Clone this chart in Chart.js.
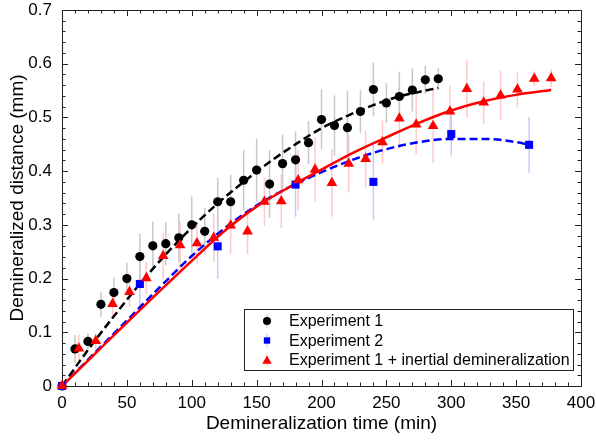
<!DOCTYPE html>
<html>
<head>
<meta charset="utf-8">
<script src="https://cdn.jsdelivr.net/npm/chart.js@4"></script>
<style>
  html, body { margin: 0; padding: 0; background: #fff; }
  #wrap { width: 596px; height: 440px; }
</style>
</head>
<body>
<div id="wrap"><canvas id="chartDemin" width="596" height="440"></canvas></div>
<script>
// Experiment 1 (black circles)
const exp1Time = [0, 10, 20, 30, 40, 50, 60, 70, 80, 90, 100, 110, 120, 130, 140, 150, 160, 170, 180, 190, 200, 210, 220, 230, 240, 250, 260, 270, 280, 290]
const exp1Dist = [0, 0.069, 0.083, 0.152, 0.174, 0.2, 0.241, 0.261, 0.265, 0.276, 0.3, 0.288, 0.343, 0.343, 0.383, 0.402, 0.376, 0.414, 0.421, 0.453, 0.496, 0.485, 0.481, 0.511, 0.552, 0.527, 0.539, 0.551, 0.57, 0.572]
const exp1Err = [0, 0.026, 0.015, 0.023, 0.028, 0.03, 0.043, 0.045, 0.04, 0.045, 0.053, 0.043, 0.045, 0.05, 0.056, 0.059, 0.063, 0.054, 0.053, 0.04, 0.056, 0.056, 0.069, 0.04, 0.05, 0.037, 0.046, 0.04, 0.026, 0.02]

// Experiment 2 (blue squares)
const exp2Time = [0, 60, 120, 180, 240, 300, 360]
const exp2Dist = [0, 0.19, 0.26, 0.375, 0.38, 0.469, 0.449]
const exp2Err = [0, 0.05, 0.06, 0.06, 0.07, 0.04, 0.052]

// Experiment 1 + inertial demineralization (red triangles)
const inertTime = [0, 13, 26, 39, 52, 65, 78, 91, 104, 117, 130, 143, 156, 169, 182, 195, 208, 221, 234, 247, 260, 273, 286, 299, 312, 325, 338, 351, 364, 377]
const inertDist = [0, 0.07, 0.084, 0.153, 0.175, 0.201, 0.242, 0.262, 0.266, 0.276, 0.299, 0.288, 0.343, 0.344, 0.383, 0.403, 0.378, 0.414, 0.423, 0.454, 0.498, 0.487, 0.484, 0.511, 0.553, 0.528, 0.541, 0.552, 0.572, 0.573]
const inertErr = [0, 0.026, 0.015, 0.023, 0.028, 0.03, 0.043, 0.045, 0.04, 0.045, 0.053, 0.043, 0.045, 0.05, 0.056, 0.059, 0.063, 0.054, 0.053, 0.04, 0.056, 0.056, 0.069, 0.048, 0.053, 0.04, 0.046, 0.033, 0.014, 0.017]

// fitted curves
const fit1Time = [0, 20, 40, 60, 80, 100, 120, 140, 160, 180, 200, 220, 240, 260, 280, 290]
const fit1Dist = [0, 0.067, 0.13, 0.19, 0.245, 0.295, 0.34, 0.38, 0.417, 0.45, 0.48, 0.503, 0.523, 0.539, 0.55, 0.555]
const fit2Time = [0, 25, 50, 75, 100, 125, 150, 175, 200, 225, 250, 275, 300, 325, 350, 360]
const fit2Dist = [0, 0.061, 0.122, 0.183, 0.242, 0.293, 0.336, 0.37, 0.398, 0.422, 0.441, 0.454, 0.46, 0.46, 0.454, 0.449]
const fit3Time = [0, 25, 50, 75, 100, 125, 150, 175, 200, 225, 250, 275, 300, 325, 350, 377]
const fit3Dist = [0, 0.059, 0.118, 0.176, 0.233, 0.288, 0.334, 0.37, 0.403, 0.435, 0.463, 0.49, 0.513, 0.53, 0.542, 0.551]

const xTicks = [0, 50, 100, 150, 200, 250, 300, 350, 400]
const yTicks = [0, 0.1, 0.2, 0.3, 0.4, 0.5, 0.6, 0.7]

const FONT = "'Liberation Sans', Arial, Helvetica, sans-serif"

function pts(xs, ys) {
  return xs.map((x, i) => ({x: x, y: ys[i]}))
}

const legendItems = [
  {label: 'Experiment 1', color: '#000000', bar: '#c8c8c8', style: 'circle'},
  {label: 'Experiment 2', color: '#0000ff', bar: '#c8c8ff', style: 'rect'},
  {label: 'Experiment 1 + inertial demineralization', color: '#ff0000', bar: '#ffc8c8', style: 'triangle'}
]

function marker(ctx, style, x, y, r) {
  ctx.beginPath()
  if (style === 'circle') {
    ctx.arc(x, y, r, 0, Math.PI * 2)
  } else if (style === 'rect') {
    const s = r * Math.SQRT1_2
    ctx.rect(x - s, y - s, 2 * s, 2 * s)
  } else {
    ctx.moveTo(x, y - r)
    ctx.lineTo(x - r * 0.866, y + r * 0.5)
    ctx.lineTo(x + r * 0.866, y + r * 0.5)
    ctx.closePath()
  }
  ctx.fill()
}

// frame, inward ticks and error bars
const framePlugin = {
  id: 'frame',
  beforeDatasetsDraw(chart) {
    const {ctx, chartArea: a, scales: {x, y}} = chart
    ctx.save()
    chart.data.datasets.forEach((ds) => {
      if (!ds.errors) return
      ctx.strokeStyle = ds.barColor
      ctx.lineWidth = 1.5
      ds.data.forEach((p, i) => {
        const e = ds.errors[i]
        if (!e) return
        const px = x.getPixelForValue(p.x)
        ctx.beginPath()
        ctx.moveTo(px, y.getPixelForValue(p.y - e))
        ctx.lineTo(px, y.getPixelForValue(p.y + e))
        ctx.stroke()
      })
    })

    ctx.strokeStyle = '#222'
    ctx.lineWidth = 1
    ctx.strokeRect(Math.round(a.left) + 0.5, Math.round(a.top) + 0.5, Math.round(a.width), Math.round(a.height))
    ctx.beginPath()
    for (let v = 0; v <= 400; v += 10) {
      const px = Math.round(x.getPixelForValue(v)) + 0.5
      const len = v % 50 === 0 ? 6 : 3.5
      ctx.moveTo(px, a.bottom); ctx.lineTo(px, a.bottom - len)
      ctx.moveTo(px, a.top); ctx.lineTo(px, a.top + len)
    }
    for (let i = 0; i <= 35; i++) {
      const py = Math.round(y.getPixelForValue(i * 0.02)) + 0.5
      const len = i % 5 === 0 ? 6 : 3.5
      ctx.moveTo(a.left, py); ctx.lineTo(a.left + len, py)
      ctx.moveTo(a.right, py); ctx.lineTo(a.right - len, py)
    }
    ctx.stroke()
    ctx.restore()
  },
  afterDraw(chart) {
    const {ctx, chartArea: a} = chart
    const w = 329, h = 61
    const bx = Math.round(a.right - 8 - w), by = Math.round(a.bottom - 16 - h)
    ctx.save()
    ctx.fillStyle = '#fff'
    ctx.fillRect(bx, by, w, h)
    ctx.strokeStyle = '#222'
    ctx.lineWidth = 1
    ctx.strokeRect(bx + 0.5, by + 0.5, w, h)
    ctx.font = '16px ' + FONT
    ctx.textBaseline = 'middle'
    ctx.textAlign = 'left'
    legendItems.forEach((it, i) => {
      const cy = by + 12 + i * 19.5
      const mx = bx + 23
      ctx.strokeStyle = it.bar
      ctx.lineWidth = 1.2
      ctx.beginPath(); ctx.moveTo(mx, cy - 7); ctx.lineTo(mx, cy + 7); ctx.stroke()
      ctx.fillStyle = it.color
      marker(ctx, it.style, mx, cy + (it.style === 'triangle' ? 1 : 0), it.style === 'circle' ? 4 : (it.style === 'rect' ? 4.5 : 5.5))
      ctx.fillStyle = '#000'
      ctx.fillText(it.label, bx + 45, cy + 1)
    })
    ctx.restore()
  }
}

new Chart(document.getElementById('chartDemin'), {
  type: 'scatter',
  data: {
    datasets: [
      {
        label: 'Experiment 1 + inertial demineralization',
        data: pts(inertTime, inertDist),
        errors: inertErr, barColor: '#ffc8c8',
        pointStyle: 'triangle', pointRadius: 6.2, pointBorderWidth: 0,
        backgroundColor: '#ff0000', borderColor: '#ff0000', clip: false
      },
      {
        label: 'Experiment 2',
        data: pts(exp2Time, exp2Dist),
        errors: exp2Err, barColor: '#c8c8ff',
        pointStyle: 'rect', pointRadius: 5.7, pointBorderWidth: 0,
        backgroundColor: '#0000ff', borderColor: '#0000ff', clip: false
      },
      {
        label: 'Experiment 1',
        data: pts(exp1Time, exp1Dist),
        errors: exp1Err, barColor: '#c8c8c8',
        pointStyle: 'circle', pointRadius: 4.6, pointBorderWidth: 0,
        backgroundColor: '#000000', borderColor: '#000000', clip: false
      },
      {
        label: 'fit 3',
        data: pts(fit3Time, fit3Dist),
        showLine: true, pointRadius: 0, borderColor: '#ff0000', borderWidth: 2.5,
        cubicInterpolationMode: 'monotone'
      },
      {
        label: 'fit 2',
        data: pts(fit2Time, fit2Dist),
        showLine: true, pointRadius: 0, borderColor: '#0000ff', borderWidth: 2.5,
        borderDash: [8, 4], cubicInterpolationMode: 'monotone'
      },
      {
        label: 'fit 1',
        data: pts(fit1Time, fit1Dist),
        showLine: true, pointRadius: 0, borderColor: '#000000', borderWidth: 2.5,
        borderDash: [8, 4], cubicInterpolationMode: 'monotone'
      }
    ]
  },
  options: {
    responsive: false,
    animation: false,
    devicePixelRatio: 1,
    layout: {padding: {top: 10, right: 15, left: 0, bottom: 0}},
    plugins: {
      legend: {display: false},
      tooltip: {enabled: false}
    },
    scales: {
      x: {
        type: 'linear', min: 0, max: 400,
        afterBuildTicks: (s) => { s.ticks = xTicks.map(v => ({value: v})) },
        afterFit: (s) => { s.height = 54; s.paddingLeft = 0; s.paddingRight = 0 },
        grid: {display: false, drawTicks: false},
        border: {display: false},
        ticks: {color: '#000', padding: 7, maxRotation: 0, font: {family: FONT, size: 17}},
        title: {display: true, text: 'Demineralization time (min)', color: '#000',
          padding: {top: 0, bottom: 5}, font: {family: FONT, size: 19}}
      },
      y: {
        type: 'linear', min: 0, max: 0.7,
        afterBuildTicks: (s) => { s.ticks = yTicks.map(v => ({value: v})) },
        afterFit: (s) => { s.width = 62; s.paddingTop = 0; s.paddingBottom = 0 },
        grid: {display: false, drawTicks: false},
        border: {display: false},
        ticks: {color: '#000', padding: 10, font: {family: FONT, size: 17}},
        title: {display: true, text: 'Demineralized distance (mm)', color: '#000',
          padding: {top: 6, bottom: 0}, font: {family: FONT, size: 19}}
      }
    }
  },
  plugins: [framePlugin]
});
</script>
</body>
</html>
